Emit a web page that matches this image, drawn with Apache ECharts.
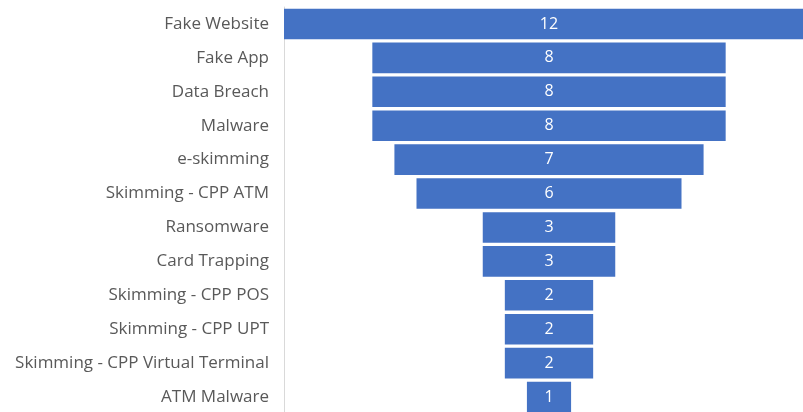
<!DOCTYPE html>
<html>
<head>
<meta charset="utf-8">
<script src="https://cdn.jsdelivr.net/npm/echarts@6/dist/echarts.min.js"></script>
<style>
html, body { margin: 0; padding: 0; background: #fff; }
#main { width: 803px; height: 412px; }
</style>
</head>
<body>
<div id="main"></div>
<script>
// 类别与数值
var categories = ['Fake Website', 'Fake App', 'Data Breach', 'Malware', 'e-skimming',
    'Skimming - CPP ATM', 'Ransomware', 'Card Trapping', 'Skimming - CPP POS',
    'Skimming - CPP UPT', 'Skimming - CPP Virtual Terminal', 'ATM Malware'];
var counts = [12, 8, 8, 8, 7, 6, 3, 3, 2, 2, 2, 1];

var maxCount = Math.max.apply(null, counts);
// 透明的偏移量，使条形居中
var offsets = counts.map(function (v) { return (maxCount - v) / 2; });

var myChart = echarts.init(document.getElementById('main'));

myChart.setOption({
    animation: false,
    grid: {
        left: 284, width: 530, top: 7, height: 407,
        containLabel: false,
        outerBoundsMode: 'none'
    },
    xAxis: {
        type: 'value',
        min: 0,
        max: maxCount,
        show: false
    },
    yAxis: {
        type: 'category',
        inverse: true,
        data: categories,
        axisTick: { show: false },
        axisLine: { lineStyle: { color: '#d9d9d9', width: 1 } },
        axisLabel: {
            color: '#595959',
            fontSize: 17,
            fontFamily: 'Open Sans',
            margin: 15
        }
    },
    series: [{
        type: 'bar',
        stack: 'f',
        data: offsets,
        itemStyle: { color: 'transparent' },
        silent: true,
        barCategoryGap: '10%'
    }, {
        type: 'bar',
        stack: 'f',
        data: counts,
        clip: false,
        itemStyle: { color: '#4472c4' },
        label: {
            show: true,
            position: 'inside',
            color: '#ffffff',
            fontSize: 16,
            fontFamily: 'Open Sans'
        },
        barCategoryGap: '10%'
    }]
});
</script>
</body>
</html>
